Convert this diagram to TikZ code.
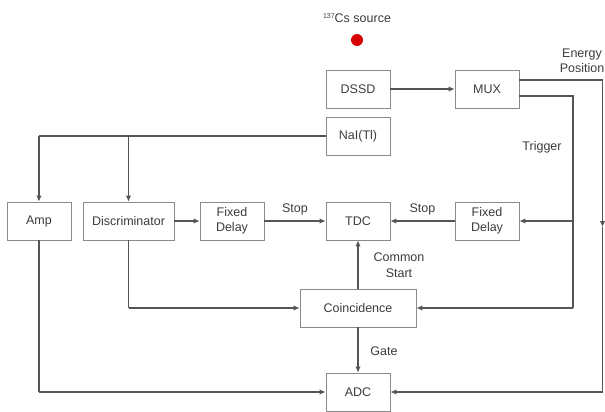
\documentclass[tikz,border=0pt]{standalone}
\usepackage{fontspec}
\setmainfont{Liberation Sans}
\usetikzlibrary{arrows.meta}
\definecolor{boxc}{HTML}{8A8A8A}
\definecolor{linec}{HTML}{555555}
\definecolor{txtc}{HTML}{3C3C3C}
\begin{document}
\begin{tikzpicture}[x=1pt,y=-1pt,
  font=\fontsize{12.5}{15.5}\selectfont,
  blk/.style={draw=boxc, line width=0.9pt, text=txtc, minimum height=38pt, minimum width=64pt, inner sep=1pt, align=center},
  conn/.style={draw=linec, line width=1.1pt},
  arr/.style={conn, -{Latex[length=6pt,width=5.5pt]}},
  lbl/.style={text=txtc, align=center, inner sep=0pt}]
\useasboundingbox (0,0) rectangle (605,412);
\fill[white] (0,0) rectangle (605,412);

\node[lbl] (src) at (357,18) {\raisebox{0.5ex}{\fontsize{7}{8}\selectfont 137}Cs source};
\node[circle, fill=red!85!black, minimum size=12pt, inner sep=0pt] (dot) at (357,40) {};

\node[blk] (dssd) at (358,89) {DSSD};
\node[blk] (mux) at (487,89) {MUX};
\node[blk] (nai) at (358,136) {NaI(Tl)};
\node[blk] (amp) at (39,221) {Amp};
\node[blk, minimum width=91pt] (disc) at (128.5,221) {Discriminator};
\node[blk] (fd1) at (232,221) {Fixed\\Delay};
\node[blk] (tdc) at (358,221) {TDC};
\node[blk] (fd2) at (487,221) {Fixed\\Delay};
\node[blk, minimum width=116pt] (coin) at (358,308) {Coincidence};
\node[blk] (adc) at (358,392) {ADC};

% coordinates
\coordinate (j1) at (39,136);
\coordinate (j2) at (128.5,136);
\coordinate (m1) at (519,80);
\coordinate (m2) at (519,96);
\coordinate (r1) at (602.5,80);
\coordinate (r2) at (602.5,227);
\coordinate (r3) at (602.5,392);
\coordinate (t1) at (573,96);
\coordinate (t2) at (573,221);
\coordinate (t3) at (573,308);
\coordinate (d1) at (128.5,308);
\coordinate (a1) at (39,392);

\draw[arr] (dssd) -- (mux);
\draw[conn] (nai.west) -- (j1);
\draw[arr] (j1) -- (amp.north);
\draw[arr] (j2) -- (disc.north);
\draw[arr] (disc) -- (fd1);
\draw[arr] (fd1) -- node[lbl, above=5pt] (stop1) {Stop} (tdc);
\draw[arr] (fd2) -- node[lbl, above=5pt] (stop2) {Stop} (tdc);
\draw[conn] (m2) -- (t1) -- (t3);
\draw[arr] (t2) -- (fd2.east);
\draw[arr] (t3) -- (coin.east);
\draw[conn] (m1) -- (r1);
\draw[arr] (r1) -- (r2);
\draw[conn] (r2) -- (r3);
\draw[arr] (r3) -- (adc.east);
\draw[arr] (coin) -- (tdc);
\draw[arr] (coin) -- (adc);
\draw[conn] (disc.south) -- (d1);
\draw[arr] (d1) -- (coin.west);
\draw[conn] (amp.south) -- (a1);
\draw[arr] (a1) -- (adc.west);

\node[lbl] (cs) at (399,265) {Common\\Start};
\node[lbl] (gate) at (384,351) {Gate};
\node[lbl] (trig) at (542,147) {Trigger};
\node[lbl] (ep) at (582,61) {Energy\\Position};
\end{tikzpicture}
\end{document}
